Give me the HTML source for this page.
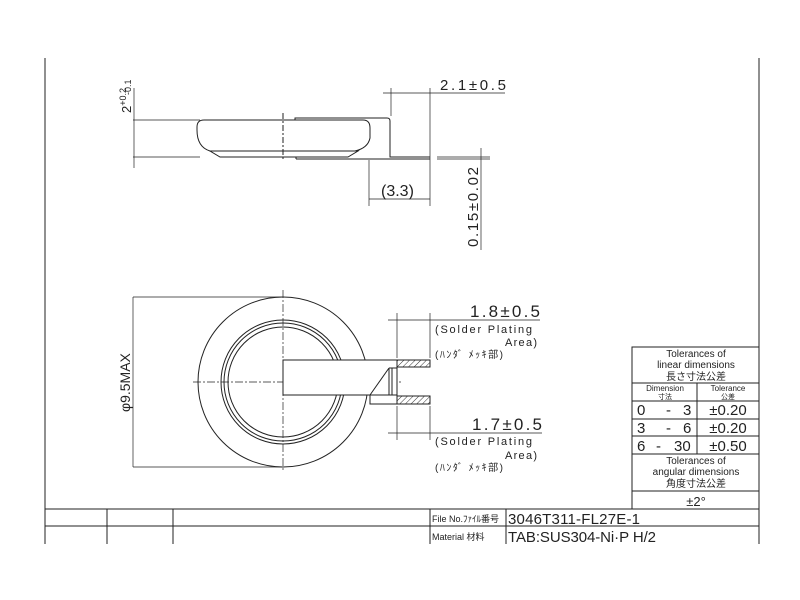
<!DOCTYPE html><html><head><style>body{margin:0;background:#fff}svg{display:block}text{font-family:"Liberation Sans","Noto Sans CJK JP",sans-serif;fill:#222}</style></head><body>
<svg width="800" height="600" viewBox="0 0 800 600" xmlns="http://www.w3.org/2000/svg" stroke="#222" fill="none" stroke-width="1">
<defs><pattern id="h" width="4" height="4" patternUnits="userSpaceOnUse" patternTransform="rotate(45)"><line x1="0" y1="0" x2="0" y2="4" stroke="#333" stroke-width="1"/></pattern></defs>
<line x1="45" y1="58" x2="45" y2="544"/><line x1="759" y1="58" x2="759" y2="544"/>
<line x1="45" y1="509" x2="759" y2="509"/><line x1="45" y1="526" x2="759" y2="526"/>
<line x1="107" y1="509" x2="107" y2="544"/><line x1="173" y1="509" x2="173" y2="544"/><line x1="430" y1="509" x2="430" y2="544"/><line x1="506" y1="509" x2="506" y2="544"/>
<g stroke="none">
<text x="432" y="522" font-size="9">File No.ﾌｧｲﾙ番号</text>
<text x="432" y="540" font-size="9">Material 材料</text>
<text x="508" y="524" font-size="15" textLength="132">3046T311-FL27E-1</text>
<text x="508" y="542" font-size="15" textLength="148">TAB:SUS304-Ni·P H/2</text>
</g>
<rect x="632" y="347" width="127" height="162"/>
<line x1="632" y1="383" x2="759" y2="383"/><line x1="632" y1="401" x2="759" y2="401"/><line x1="632" y1="419" x2="759" y2="419"/><line x1="632" y1="436" x2="759" y2="436"/><line x1="632" y1="454" x2="759" y2="454"/><line x1="632" y1="491" x2="759" y2="491"/>
<line x1="697" y1="383" x2="697" y2="454"/>
<g stroke="none" text-anchor="middle">
<text x="696" y="357" font-size="10">Tolerances of</text>
<text x="696" y="368" font-size="10">linear dimensions</text>
<text x="696" y="380" font-size="10">長さ寸法公差</text>
<text x="665" y="391" font-size="8">Dimension</text><text x="665" y="399" font-size="7">寸法</text>
<text x="728" y="391" font-size="8">Tolerance</text><text x="728" y="399" font-size="7">公差</text>
<text x="728" y="415" font-size="15">±0.20</text><text x="728" y="433" font-size="15">±0.20</text><text x="728" y="451" font-size="15">±0.50</text>
<text x="696" y="464" font-size="10">Tolerances of</text>
<text x="696" y="475" font-size="10">angular dimensions</text>
<text x="696" y="487" font-size="10">角度寸法公差</text>
<text x="696" y="506" font-size="13">±2°</text>
</g>
<g stroke="none" font-size="15">
<text x="637" y="415">0</text><text x="666" y="415">-</text><text x="683" y="415">3</text>
<text x="637" y="433">3</text><text x="666" y="433">-</text><text x="683" y="433">6</text>
<text x="637" y="451">6</text><text x="656" y="451">-</text><text x="674" y="451">30</text>
</g>
<path d="M204 120 H363 Q370 120 370 128 V138 Q368 148 355 151 H210 Q197 147 197 130 V127 Q197 120 204 120Z"/>
<path d="M210 151 H358 L348 157 H220Z"/>
<path d="M295 120 V118 H387 Q390 118 390 121 V157 H430 M296 159 H430 M390 159 H387"/>
<line x1="283" y1="113" x2="283" y2="160" stroke-dasharray="6,2,2,2"/>
<line x1="296" y1="157" x2="296" y2="159"/>
<line x1="133" y1="120" x2="200" y2="120" stroke-width="0.7"/><line x1="133" y1="157" x2="200" y2="157" stroke-width="0.7"/>
<line x1="134" y1="88" x2="134" y2="168" stroke-width="0.7"/>
<line x1="391" y1="88" x2="391" y2="116" stroke-width="0.7"/><line x1="430" y1="88" x2="430" y2="206" stroke-width="0.7"/>
<line x1="383" y1="93" x2="505" y2="93" stroke-width="0.7"/>
<line x1="369" y1="160" x2="369" y2="206" stroke-width="0.7"/><line x1="369" y1="199" x2="430" y2="199" stroke-width="0.7"/>
<line x1="437" y1="157" x2="490" y2="157" stroke-width="0.7"/><line x1="437" y1="159" x2="490" y2="159" stroke-width="0.7"/>
<line x1="481" y1="148" x2="481" y2="250" stroke-width="0.7"/>
<g stroke="none" font-size="15">
<text x="440" y="90" textLength="66">2.1±0.5</text>
<text x="381" y="196" font-size="16">(3.3)</text>
<text transform="translate(478,247) rotate(-90)" textLength="80">0.15±0.02</text>
<text transform="translate(131,113) rotate(-90)" font-size="13">2<tspan font-size="9" dy="-5">+0.2</tspan></text>
<text transform="translate(131,95) rotate(-90)" font-size="9">-0.1</text>
</g>
<circle cx="283" cy="382" r="85"/><circle cx="283" cy="382" r="62"/><circle cx="283" cy="382" r="59"/><circle cx="283" cy="382" r="55"/>
<line x1="283" y1="290" x2="283" y2="472" stroke-dasharray="8,2,2,2" stroke-width="0.7"/>
<line x1="193" y1="382" x2="402" y2="382" stroke-dasharray="8,2,2,2" stroke-width="0.7"/>
<rect x="283" y="360" width="114" height="35" fill="#fff"/>
<rect x="370" y="395" width="27" height="9" fill="#fff"/>
<line x1="389" y1="368" x2="370" y2="395"/>
<line x1="389" y1="368" x2="389" y2="395"/><line x1="392" y1="368" x2="392" y2="395"/>
<line x1="389" y1="368" x2="397" y2="368"/>
<rect x="397" y="360" width="33" height="7" fill="url(#h)"/>
<rect x="397" y="396" width="33" height="8" fill="url(#h)"/>
<line x1="133" y1="297" x2="283" y2="297" stroke-width="0.7"/><line x1="133" y1="467" x2="283" y2="467" stroke-width="0.7"/>
<line x1="133" y1="297" x2="133" y2="467" stroke-width="0.7"/>
<line x1="397" y1="313" x2="397" y2="358" stroke-width="0.7"/><line x1="430" y1="313" x2="430" y2="358" stroke-width="0.7"/>
<line x1="388" y1="320" x2="540" y2="320" stroke-width="0.7"/>
<line x1="397" y1="406" x2="397" y2="440" stroke-width="0.7"/><line x1="430" y1="406" x2="430" y2="440" stroke-width="0.7"/>
<line x1="388" y1="433" x2="542" y2="433" stroke-width="0.7"/>
<g stroke="none">
<text x="470" y="317" font-size="17" textLength="70">1.8±0.5</text>
<text x="435" y="333" font-size="11" textLength="97">(Solder Plating</text>
<text x="505" y="346" font-size="11" textLength="32">Area)</text>
<text x="435" y="358" font-size="10" textLength="68">(ﾊﾝﾀﾞ ﾒｯｷ部)</text>
<text x="472" y="430" font-size="17" textLength="70">1.7±0.5</text>
<text x="435" y="445" font-size="11" textLength="97">(Solder Plating</text>
<text x="505" y="459" font-size="11" textLength="32">Area)</text>
<text x="435" y="471" font-size="10" textLength="68">(ﾊﾝﾀﾞ ﾒｯｷ部)</text>
<text transform="translate(130,412) rotate(-90)" font-size="14">φ9.5MAX</text>
</g>
</svg></body></html>
